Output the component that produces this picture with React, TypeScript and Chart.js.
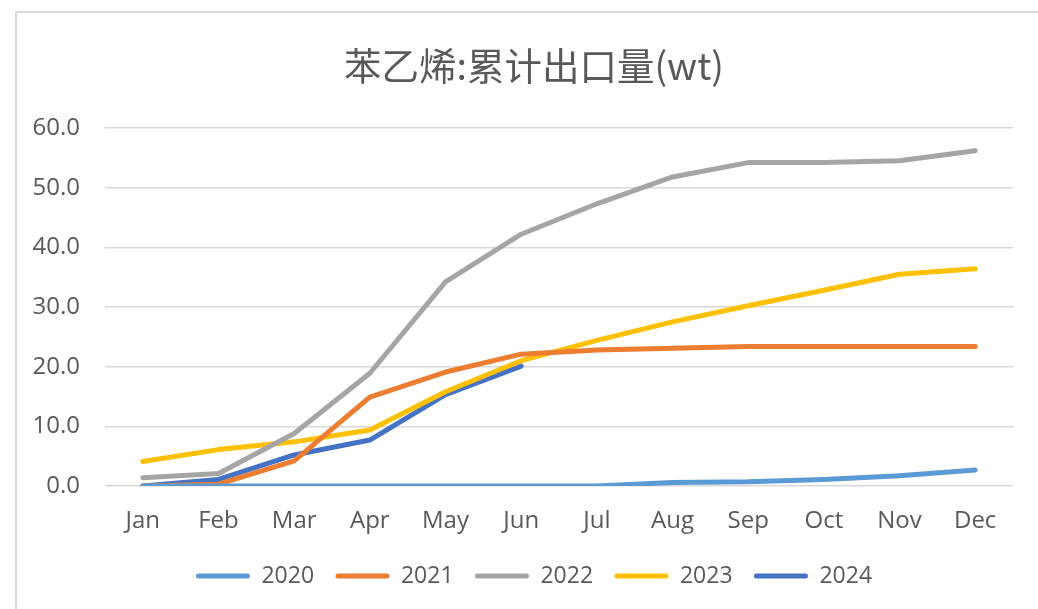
import React, { useEffect, useRef } from "react";
import { Chart, registerables } from "chart.js";

Chart.register(...registerables);

const TITLE = "苯乙烯:累计出口量(wt)";
const months = ["Jan", "Feb", "Mar", "Apr", "May", "Jun", "Jul", "Aug", "Sep", "Oct", "Nov", "Dec"];
const seriesNames = ["2020", "2021", "2022", "2023", "2024"];
const y2020 = [0, 0, 0, 0, 0, 0, 0, 0.6, 0.7, 1.1, 1.7, 2.7];
const y2021 = [0, 0.3, 4.2, 14.9, 19.1, 22.1, 22.8, 23.1, 23.4, 23.4, 23.4, 23.4];
const y2022 = [1.4, 2.1, 8.8, 18.9, 34.2, 42.2, 47.3, 51.8, 54.2, 54.2, 54.5, 56.2];
const y2023 = [4.1, 6.1, 7.4, 9.4, 15.8, 21.0, 24.4, 27.5, 30.2, 32.8, 35.5, 36.4];
const y2024 = [0, 1.1, 5.2, 7.7, 15.3, 20.1];
const colors = ["#5B9BD5", "#ED7D31", "#A5A5A5", "#FFC000", "#4472C4"];
const yTicks = [0, 10, 20, 30, 40, 50, 60];

export default function App() {
  const ref = useRef<HTMLCanvasElement | null>(null);

  useEffect(() => {
    if (!ref.current) return;
    const values = [y2020, y2021, y2022, y2023, y2024];
    const chart = new Chart(ref.current, {
      type: "line",
      data: {
        labels: months,
        datasets: seriesNames.map((name, i) => ({
          label: name,
          data: values[i],
          borderColor: colors[i],
          backgroundColor: colors[i],
          borderWidth: 5,
          pointRadius: 0,
          pointHoverRadius: 0,
          tension: 0,
          borderCapStyle: "round" as const,
          borderJoinStyle: "round" as const,
          fill: false,
        })),
      },
      options: {
        animation: false,
        responsive: false,
        devicePixelRatio: 1,
        layout: { padding: { left: 55, right: 25, top: 0, bottom: 11.5 } },
        plugins: {
          title: {
            display: true,
            text: TITLE,
            color: "#595959",
            font: { family: "'Noto Sans CJK SC', 'Noto Sans', sans-serif", size: 37.5, weight: "normal", lineHeight: 1.2 },
            padding: { top: 43.5, bottom: 39.5 },
          },
          legend: {
            position: "bottom",
            labels: {
              color: "#595959",
              font: { family: "'Open Sans', sans-serif", size: 23 },
              boxWidth: 54,
              boxHeight: 5,
              padding: 21.4,
              useBorderRadius: true,
              borderRadius: 2.5,
              generateLabels: (c: any) =>
                c.data.datasets.map((ds: any, i: number) => ({
                  text: ds.label,
                  fillStyle: ds.borderColor,
                  strokeStyle: ds.borderColor,
                  lineWidth: 0,
                  hidden: false,
                  datasetIndex: i,
                  fontColor: "#595959",
                  borderRadius: 2.5,
                })),
            },
          },
          tooltip: { enabled: false },
        },
        scales: {
          x: {
            offset: true,
            grid: { display: false, drawTicks: false },
            border: { display: false },
            ticks: {
              color: "#595959",
              font: { family: "'Open Sans', sans-serif", size: 24 },
              padding: 20.6,
              maxRotation: 0,
              autoSkip: false,
            },
            afterFit: (s: any) => {
              s.height = 57.1;
            },
          },
          y: {
            min: 0,
            max: 60,
            afterBuildTicks: (s: any) => {
              s.ticks = yTicks.map((v) => ({ value: v }));
            },
            grid: { color: "#D9D9D9", lineWidth: 1.5, drawTicks: false },
            border: { display: false },
            ticks: {
              color: "#595959",
              font: { family: "'Open Sans', sans-serif", size: 24 },
              padding: 25,
              callback: (v: any) => Number(v).toFixed(1),
            },
            afterFit: (s: any) => {
              s.width = 50;
              s._computeLabelArea = () => undefined;
            },
          },
        },
      },
    });
    return () => chart.destroy();
  }, []);

  return (
    <div style={{ position: "fixed", left: 0, top: 0, width: 1038, height: 609, background: "#fff", overflow: "hidden" }}>
      <canvas ref={ref} width={1038} height={609} style={{ position: "absolute", left: 0, top: 0, width: 1038, height: 609 }} />
      <div
        style={{
          position: "absolute",
          left: 15,
          top: 11,
          width: 1200,
          height: 800,
          borderLeft: "2px solid #D9D9D9",
          borderTop: "2px solid #D9D9D9",
          pointerEvents: "none",
        }}
      />
    </div>
  );
}
